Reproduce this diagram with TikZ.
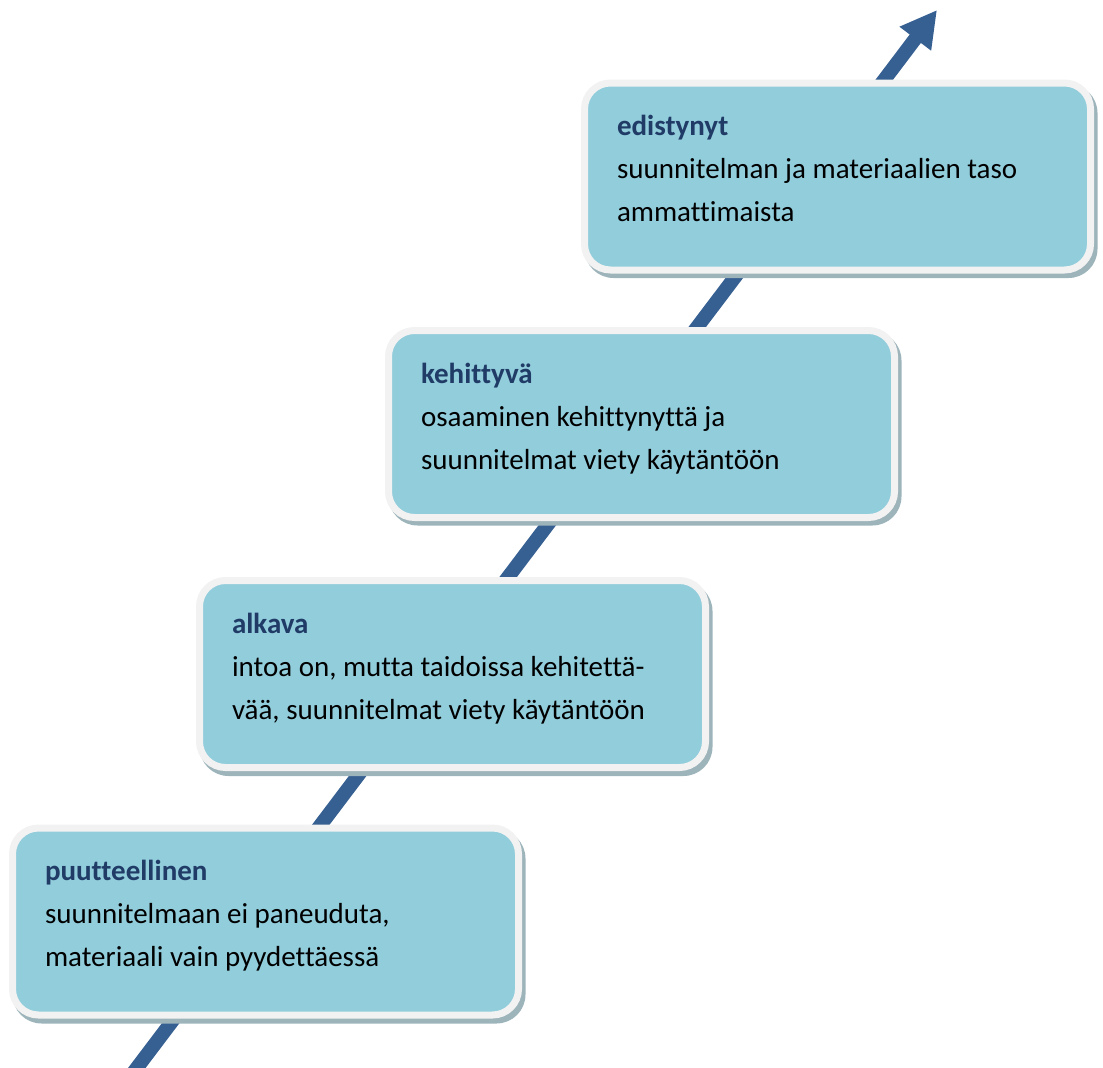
\documentclass[tikz,border=0pt]{standalone}
\usepackage{fontspec}
\setmainfont[Ligatures={NoCommon}]{Carlito}
\usetikzlibrary{arrows.meta,calc}
\definecolor{boxfill}{HTML}{92CDDC}
\definecolor{boxrim}{HTML}{F2F2F2}
\definecolor{boxshade}{HTML}{9DB4BB}
\definecolor{titleblue}{HTML}{1F3B66}
\definecolor{arrowblue}{HTML}{376092}
\tikzset{
  stage/.style={draw=boxrim, line width=7pt, fill=boxfill, rounded corners=26pt,
    minimum width=506pt, minimum height=187pt, inner sep=0pt, outer sep=0pt},
  stageshade/.style={fill=boxshade, rounded corners=29pt,
    minimum width=513pt, minimum height=194pt, inner sep=0pt, outer sep=0pt},
  stagetext/.style={anchor=base west, inner sep=0pt, outer sep=0pt,
    font=\fontsize{29}{43}\selectfont},
  trend/.style={draw=arrowblue, line width=14pt,
    -{Triangle[length=36pt,width=37pt]}}
}
\newcommand{\stagelines}[3]{%
  \begin{tabular}[t]{@{}l@{}}{\bfseries\color{titleblue}#1}\\ #2\\ #3\end{tabular}}
\begin{document}
\begin{tikzpicture}[x=1pt,y=-1pt]
\useasboundingbox (0,0) rectangle (1103,1068);

% rising trend arrow behind the stages
\coordinate (start) at (133,1073);
\coordinate (tip) at (937,10);
\draw[trend] (start) -- (tip);

% shadows
\node[stageshade] (s1) at (269,926.5) {};
\node[stageshade] (s2) at (456,679) {};
\node[stageshade] (s3) at (645,428.5) {};
\node[stageshade] (s4) at (841,181) {};

% stages
\node[stage] (b1) at (265.5,921.5) {};
\node[stage] (b2) at (452.5,674) {};
\node[stage] (b3) at (641.5,424) {};
\node[stage] (b4) at (837.5,176.5) {};

% texts
\node[stagetext] (t1) at ($(b1.north west)+(32.5,52.5)$)
  {\stagelines{puutteellinen}{suunnitelmaan ei paneuduta,}{materiaali vain pyydettäessä}};
\node[stagetext] (t2) at ($(b2.north west)+(32.5,52.5)$)
  {\stagelines{alkava}{intoa on, mutta taidoissa kehitettä-}{vää, suunnitelmat viety käytäntöön}};
\node[stagetext] (t3) at ($(b3.north west)+(32.5,52.5)$)
  {\stagelines{kehittyvä}{osaaminen kehittynyttä ja}{suunnitelmat viety käytäntöön}};
\node[stagetext] (t4) at ($(b4.north west)+(32.5,52.5)$)
  {\stagelines{edistynyt}{suunnitelman ja materiaalien taso}{ammattimaista}};
\end{tikzpicture}
\end{document}
